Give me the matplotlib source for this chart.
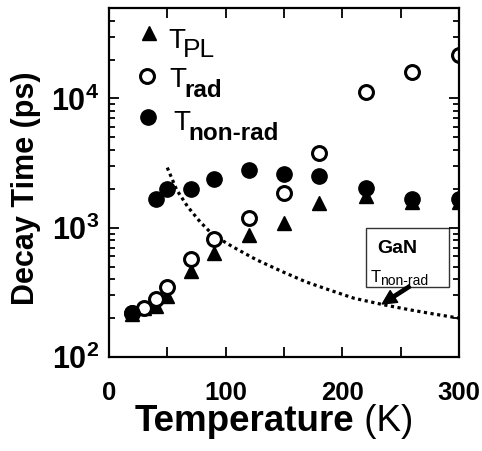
import matplotlib
matplotlib.use("Agg")
import matplotlib.pyplot as plt
from matplotlib.ticker import LogLocator, NullFormatter

plt.rcParams['font.family'] = ['Liberation Sans', 'DejaVu Sans']
plt.rcParams['font.weight'] = 'bold'

# measured decay times (ps) vs temperature (K)
temp = [20, 30, 40, 50, 70, 90, 120, 150, 180, 220, 260, 300]
tau_pl = [215, 240, 250, 297, 464, 640, 883, 1090, 1560, 1770, 1590, 1590]
tau_rad = [219, 240, 282, 349, 575, 822, 1200, 1870, 3800, 11300, 15900, 21500]

temp_nr = [20, 40, 50, 70, 90, 120, 150, 180, 220, 260, 300]
tau_nr = [220, 1680, 2000, 2000, 2400, 2820, 2620, 2500, 2040, 1680, 1680]

# GaN non-radiative lifetime curve
temp_gan = [50, 58, 67.5, 78, 89, 106, 126.5, 149, 169, 189, 210, 236, 260, 280, 300]
tau_gan = [2920, 1970, 1455, 1115, 883, 713, 565, 456, 381, 330, 285, 253, 230, 214, 200]

fig = plt.figure(figsize=(4.82, 4.51), dpi=100)
ax = fig.add_axes([0.226, 0.2084, 0.726, 0.7736])

ax.plot(temp_gan, tau_gan, color='black', lw=2.3, linestyle=(0, (1, 1.1)))
ax.plot(temp, tau_pl, '^', color='black', ms=10.5, ls='none')
ax.plot(temp, tau_rad, 'o', mfc='white', mec='black', mew=2.2, ms=10, ls='none')
ax.plot(temp_nr, tau_nr, 'o', color='black', ms=11, ls='none')

ax.set_yscale('log')
ax.set_xlim(0, 300)
ax.set_ylim(100, 5e4)

ax.set_xticks([0, 50, 100, 150, 200, 250, 300])
ax.set_xticklabels(['0', '', '100', '', '200', '', '300'])
ax.set_yticks([1e2, 1e3, 1e4])
ax.set_yticklabels([r'$\mathregular{10^{2}}$', r'$\mathregular{10^{3}}$',
                    r'$\mathregular{10^{4}}$'])
ax.yaxis.set_minor_locator(LogLocator(base=10, subs=range(2, 10)))
ax.yaxis.set_minor_formatter(NullFormatter())

ax.tick_params(which='both', direction='in', top=True, right=True, width=1.3)
ax.tick_params(which='major', length=7)
ax.tick_params(which='minor', length=4.3)
ax.tick_params(axis='x', labelsize=18.5, pad=17)
ax.tick_params(axis='y', labelsize=22, pad=7)
for sp in ax.spines.values():
    sp.set_linewidth(1.6)

ax.set_ylabel('Decay Time (ps)', fontsize=22, fontweight='bold')
ax.yaxis.set_label_coords(-0.193, 0.485)

xlab = ax.text(0.074, -0.212, 'Temperature', transform=ax.transAxes,
               fontsize=26.5, fontweight='bold', va='baseline')
ax.annotate(' (K)', xy=(1, 0), xycoords=xlab, fontsize=26.5,
            fontweight='normal', va='bottom')

# legend made of markers and subscripted labels
ax.plot([0.114], [0.928], '^', color='black', ms=10.5, transform=ax.transAxes)
ax.plot([0.109], [0.805], 'o', mfc='white', mec='black', mew=2.2, ms=10,
        transform=ax.transAxes)
ax.plot([0.111], [0.688], 'o', color='black', ms=11, transform=ax.transAxes)

ax.text(0.169, 0.885, 'T', transform=ax.transAxes, fontsize=20,
        fontweight='normal')
ax.text(0.212, 0.860, 'PL', transform=ax.transAxes, fontsize=19,
        fontweight='normal')
ax.text(0.174, 0.774, 'T', transform=ax.transAxes, fontsize=20,
        fontweight='normal')
ax.text(0.217, 0.745, 'rad', transform=ax.transAxes, fontsize=17.5)
ax.text(0.183, 0.650, 'T', transform=ax.transAxes, fontsize=20,
        fontweight='normal')
ax.text(0.226, 0.621, 'non-rad', transform=ax.transAxes, fontsize=17.5)

# GaN label box with arrow to the curve
box = plt.Rectangle((0.734, 0.200), 0.237, 0.170, transform=ax.transAxes,
                    fill=False, edgecolor='#333333', lw=1.0)
ax.add_patch(box)
ax.text(0.766, 0.298, 'GaN', transform=ax.transAxes, fontsize=14)
ax.text(0.749, 0.215, 'T', transform=ax.transAxes, fontsize=12,
        fontweight='normal')
ax.text(0.775, 0.207, 'non-rad', transform=ax.transAxes, fontsize=10,
        fontweight='normal')
ax.annotate('', xy=(0.781, 0.152), xytext=(0.86, 0.203),
            xycoords='axes fraction', textcoords='axes fraction',
            arrowprops=dict(width=2.4, headwidth=10, headlength=10,
                            color='black', shrink=0))

fig.savefig('out.png', dpi=100)
